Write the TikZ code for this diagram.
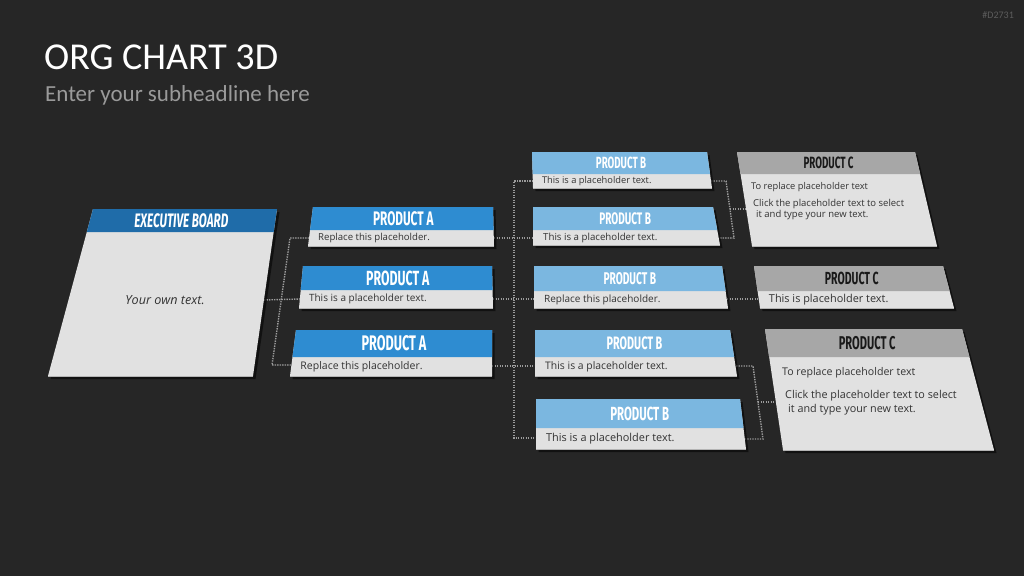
\documentclass[tikz,border=0pt]{standalone}
\usepackage{fontspec}
\setmainfont{Open Sans}
\newfontfamily\headfont{Fira Sans}[FakeStretch=0.6]
\newfontfamily\titlefont{Carlito}
\usetikzlibrary{calc,shadows}
\definecolor{bgc}{HTML}{262626}
\definecolor{bodyc}{HTML}{E1E1E1}
\definecolor{edgec}{HTML}{B4B4B4}
\definecolor{hdrExc}{HTML}{1F6CA9}
\definecolor{hdrAc}{HTML}{2E8CD1}
\definecolor{hdrBc}{HTML}{7BB7E0}
\definecolor{hdrCc}{HTML}{A7A7A7}
\definecolor{connc}{HTML}{9C9C9C}
\definecolor{txtc}{HTML}{333333}
\definecolor{subc}{HTML}{9A9A9A}
\definecolor{idc}{HTML}{5C5C5C}
\newcommand{\orgcard}[9]{%
  \coordinate (#1-tl) at (#6,#3);
  \coordinate (#1-tr) at (#7,#3);
  \coordinate (#1-br) at (#9,#5);
  \coordinate (#1-bl) at (#8,#5);
  \pgfmathsetmacro\cardt{(#4-#3)/(#5-#3)}
  \coordinate (#1-sl) at ($(#1-tl)!\cardt!(#1-bl)$);
  \coordinate (#1-sr) at ($(#1-tr)!\cardt!(#1-br)$);
  \fill[cardbody] (#1-tl) -- (#1-tr) -- (#1-br) -- (#1-bl) -- cycle;
  \draw[cardedge] (#1-bl) -- (#1-br);
  \fill[#2] (#1-tl) -- (#1-tr) -- (#1-sr) -- (#1-sl) -- cycle;
  \coordinate (#1-hc) at ($(#1-tl)!0.5!(#1-sr)$);
  \coordinate (#1-bc) at ($(#1-sl)!0.5!(#1-bl)$);
}
\begin{document}
\begin{tikzpicture}[x=1pt,y=-1pt,
  cardbody/.style={fill=bodyc, drop shadow={shadow xshift=2.5pt,shadow yshift=-3pt,opacity=0.55,fill=black}},
  cardedge/.style={draw=edgec, line width=0.8pt},
  hdrEx/.style={fill=hdrExc},
  hdrA/.style={fill=hdrAc},
  hdrB/.style={fill=hdrBc},
  hdrC/.style={fill=hdrCc},
  conn/.style={draw=connc, line width=1.4pt, dash pattern=on 1.4pt off 1.1pt},
  ttl/.style={inner sep=0, text=white, font={\headfont\bfseries\fontsize{#1}{#1}\selectfont}},
  ttli/.style={inner sep=0, text=white, font={\headfont\bfseries\itshape\fontsize{#1}{#1}\selectfont}},
  ttlc/.style={inner sep=0, text=black!90, font={\headfont\bfseries\fontsize{#1}{#1}\selectfont}},
  bodytxt/.style={inner sep=0, anchor=west, text=txtc, font={\fontsize{#1}{#1}\selectfont}},
  ctxt/.style={inner sep=0, anchor=base west, text=txtc, font={\fontsize{#1}{#1}\selectfont}}
]
\useasboundingbox (0,0) rectangle (1024,576);
\fill[bgc] (0,0) rectangle (1024,576);

% titles
\node[anchor=base west, inner sep=0, text=white, font={\titlefont\fontsize{38}{38}\selectfont}] (title) at (44,69) {ORG CHART 3D};
\node[anchor=base west, inner sep=0, text=subc, font={\titlefont\fontsize{23}{23}\selectfont}] (subtitle) at (45,101) {Enter your subheadline here};
\node[anchor=base east, inner sep=0, text=idc, font={\titlefont\fontsize{10}{10}\selectfont}] (docid) at (1014,18) {\#D2731};

% connector points
\coordinate (exr) at (264,300); \coordinate (a2l) at (300,299);
\coordinate (a1l) at (309,238); \coordinate (ta) at (290,238);
\coordinate (tb) at (272,365);  \coordinate (a3l) at (291,365);
\coordinate (a1r) at (494,238); \coordinate (b2l) at (533,238);
\coordinate (a2r) at (493,299); \coordinate (b3l) at (534,299);
\coordinate (a3r) at (492,366); \coordinate (b4l) at (535,366);
\coordinate (b1l) at (533,181); \coordinate (tc) at (514,181);
\coordinate (td) at (514,438);  \coordinate (b5l) at (536,438);
\coordinate (b1r) at (711,181); \coordinate (te) at (726,181);
\coordinate (tf) at (734,238);  \coordinate (b2r) at (719,238);
\coordinate (tm1) at (730,209); \coordinate (c1l) at (746,209);
\coordinate (b3r) at (727,299); \coordinate (c2l) at (759,299);
\coordinate (b4r) at (736,366); \coordinate (tg) at (753,366);
\coordinate (th) at (763,439);  \coordinate (b5r) at (745,439);
\coordinate (tm2) at (758,402); \coordinate (c3l) at (776,402);

\draw[conn] (exr) -- (a2l);
\draw[conn] (a1l) -- (ta) -- (tb) -- (a3l);
\draw[conn] (a1r) -- (b2l);
\draw[conn] (a2r) -- (b3l);
\draw[conn] (a3r) -- (b4l);
\draw[conn] (b1l) -- (tc) -- (td) -- (b5l);
\draw[conn] (b1r) -- (te) -- (tf) -- (b2r);
\draw[conn] (tm1) -- (c1l);
\draw[conn] (b3r) -- (c2l);
\draw[conn] (b4r) -- (tg) -- (th) -- (b5r);
\draw[conn] (tm2) -- (c3l);

% cards
\orgcard{ex}{hdrEx}{209}{232}{376}{93}{277}{48}{253}
\orgcard{a1}{hdrA}{207}{230}{246}{313}{493}{308}{494}
\orgcard{a2}{hdrA}{266}{290}{308}{303}{492}{299}{493}
\orgcard{a3}{hdrA}{330}{357}{376}{296}{492}{290}{492}
\orgcard{b1}{hdrB}{152}{174}{188}{532}{707}{533}{712}
\orgcard{b2}{hdrB}{207}{230}{245}{533}{713}{533}{720}
\orgcard{b3}{hdrB}{266}{291}{308}{534}{722}{534}{728}
\orgcard{b4}{hdrB}{330}{357}{376}{535}{730}{535}{737}
\orgcard{b5}{hdrB}{399}{428}{449}{536}{740}{536}{746}
\orgcard{c1}{hdrC}{152}{174}{246}{737}{915}{752}{937}
\orgcard{c2}{hdrC}{266}{291}{308}{754}{943}{760}{954}
\orgcard{c3}{hdrC}{329}{357}{450}{765}{962}{783}{994}

% header titles
\node[ttli=19.5] (ex-title) at ([xshift=-2pt]ex-hc) {EXECUTIVE BOARD};
\node[ttl=19.6] (a1-title) at (a1-hc) {PRODUCT A};
\node[ttl=20.5] (a2-title) at (a2-hc) {PRODUCT A};
\node[ttl=21.1] (a3-title) at (a3-hc) {PRODUCT A};
\node[ttl=16.2] (b1-title) at (b1-hc) {PRODUCT B};
\node[ttl=16.7] (b2-title) at (b2-hc) {PRODUCT B};
\node[ttl=17.0] (b3-title) at (b3-hc) {PRODUCT B};
\node[ttl=18.0] (b4-title) at (b4-hc) {PRODUCT B};
\node[ttl=19.0] (b5-title) at (b5-hc) {PRODUCT B};
\node[ttlc=16.3] (c1-title) at (c1-hc) {PRODUCT C};
\node[ttlc=17.5] (c2-title) at (c2-hc) {PRODUCT C};
\node[ttlc=18.5] (c3-title) at (c3-hc) {PRODUCT C};

% body texts
\node[inner sep=0, text=txtc, font={\itshape\fontsize{12.6}{12.6}\selectfont}] (ex-txt) at (165,300) {Your own text.};
\node[bodytxt=9.6] (a1-txt) at ([xshift=9pt]a1-bc) {Replace this placeholder.};
\node[bodytxt=10.0] (a2-txt) at ([xshift=9pt]a2-bc) {This is a placeholder text.};
\node[bodytxt=10.5] (a3-txt) at ([xshift=9pt]a3-bc) {Replace this placeholder.};
\node[bodytxt=9.3] (b1-txt) at ([xshift=9pt]b1-bc) {This is a placeholder text.};
\node[bodytxt=9.7] (b2-txt) at ([xshift=10pt]b2-bc) {This is a placeholder text.};
\node[bodytxt=10.0] (b3-txt) at ([xshift=10pt]b3-bc) {Replace this placeholder.};
\node[bodytxt=10.4] (b4-txt) at ([xshift=10pt]b4-bc) {This is a placeholder text.};
\node[bodytxt=10.9] (b5-txt) at ([xshift=10pt]b5-bc) {This is a placeholder text.};
\node[bodytxt=10.9] (c2-txt) at ([xshift=10pt]c2-bc) {This is placeholder text.};

\node[ctxt=9.3] (c1-t1) at (751,189) {To replace placeholder text};
\node[ctxt=9.5] (c1-t2) at (753,206) {Click the placeholder text to select};
\node[ctxt=9.5] (c1-t3) at (756,217) {it and type your new text.};
\node[ctxt=10.6] (c3-t1) at (782,375) {To replace placeholder text};
\node[ctxt=10.8] (c3-t2) at (785,398) {Click the placeholder text to select};
\node[ctxt=10.8] (c3-t3) at (788,412) {it and type your new text.};
\end{tikzpicture}
\end{document}
